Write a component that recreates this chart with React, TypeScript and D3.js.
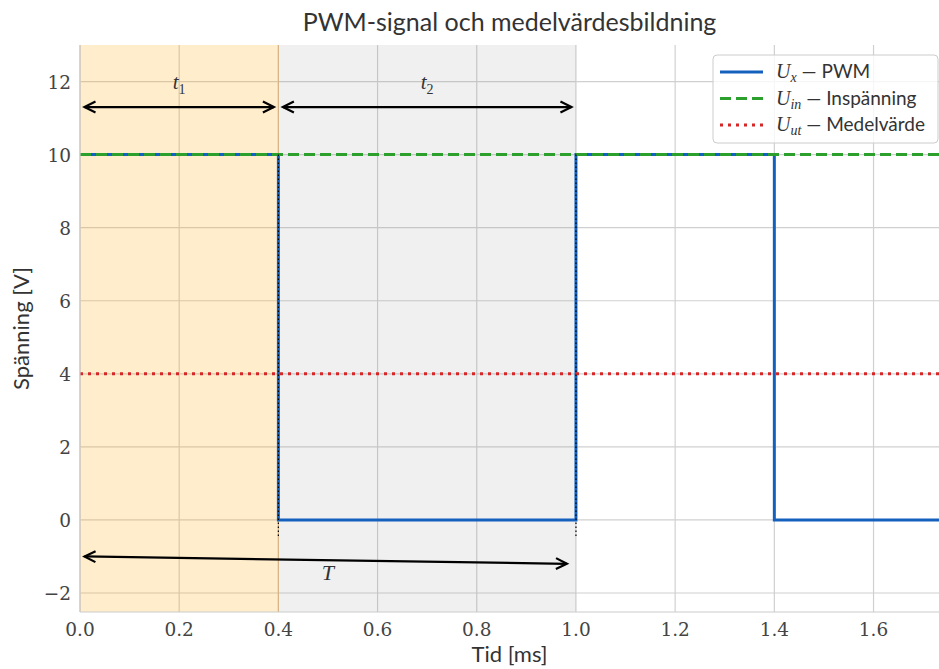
import React from "react";
import * as d3 from "d3";

const pwmT = [0, 0.4, 0.4, 1.0, 1.0, 1.4, 1.4, 1.75];
const pwmU = [10, 10, 0, 0, 10, 10, 0, 0];
const uIn = 10;
const uUt = 4;
const xTicks = [0, 0.2, 0.4, 0.6, 0.8, 1.0, 1.2, 1.4, 1.6];
const yTicks = [-2, 0, 2, 4, 6, 8, 10, 12];
const spans = [
  { x0: 0, x1: 0.4, fill: "rgba(255,165,0,0.2)" },
  { x0: 0.4, x1: 1.0, fill: "rgba(128,128,128,0.12)" },
];
const markerX = [0.4, 1.0];
const legendItems = [
  { sub: "x", text: " — PWM", color: "#1560bd", dash: "none" },
  { sub: "in", text: " — Inspänning", color: "#2ca02c", dash: "11,5" },
  { sub: "ut", text: " — Medelvärde", color: "#d62728", dash: "3,5" },
];

const W = 939, H = 669;
const M = { left: 80, right: 0, top: 45, bottom: 57 };
const SERIF = "'DejaVu Serif', 'Liberation Serif', serif";
const MATH = "'Liberation Serif', serif";
const SANS = "Lato, 'Open Sans', sans-serif";

function Arrow({ x1, y1, x2, y2 }: { x1: number; y1: number; x2: number; y2: number }) {
  const ang = Math.atan2(y2 - y1, x2 - x1);
  const L = 11, Wd = 5.5;
  const head = (x: number, y: number, a: number) => {
    const bx = x - L * Math.cos(a), by = y - L * Math.sin(a);
    const px = -Math.sin(a) * Wd, py = Math.cos(a) * Wd;
    return `M${bx + px},${by + py}L${x},${y}L${bx - px},${by - py}`;
  };
  return (
    <g stroke="black" strokeWidth={2.2} fill="none" strokeLinejoin="miter">
      <line x1={x1} y1={y1} x2={x2} y2={y2} />
      <path d={head(x2, y2, ang)} />
      <path d={head(x1, y1, ang + Math.PI)} />
    </g>
  );
}

export default function App() {
  const x = d3.scaleLinear().domain([0, 1.732]).range([M.left, W - M.right]);
  const y = d3.scaleLinear().domain([-2.52, 13]).range([H - M.bottom, M.top]);
  const line = d3.line<number>().x((_, i) => x(pwmT[i])).y((d) => y(d));
  const x0 = x.range()[0], x1 = x.range()[1];
  const y0 = y.range()[0], y1 = y.range()[1];
  const shrink = 4.5;
  return (
    <svg width={W} height={H} style={{ position: "absolute", left: 0, top: 0, background: "white" }}>
      <defs>
        <clipPath id="plot">
          <rect x={x0} y={y1} width={x1 - x0} height={y0 - y1} />
        </clipPath>
      </defs>
      {/* grid */}
      <g stroke="#d0d0d0" strokeWidth={1.2}>
        {xTicks.map((t) => (
          <line key={"gx" + t} x1={x(t)} x2={x(t)} y1={y1} y2={y0} />
        ))}
        {yTicks.map((t) => (
          <line key={"gy" + t} x1={x0} x2={x1} y1={y(t)} y2={y(t)} />
        ))}
      </g>
      {spans.map((s, i) => (
        <rect key={i} x={x(s.x0)} y={y1} width={x(s.x1) - x(s.x0)} height={y0 - y1} fill={s.fill} />
      ))}
      <line x1={x(0.4)} x2={x(0.4)} y1={y1} y2={y0} stroke="rgba(220,170,100,0.6)" strokeWidth={1.2} />
      <g clipPath="url(#plot)">
        <path d={line(pwmU) || ""} fill="none" stroke="#1560bd" strokeWidth={3} />
        <line x1={x0} x2={x1} y1={y(uIn)} y2={y(uIn)} stroke="#2ca02c" strokeWidth={3} strokeDasharray="11,5" />
        <line x1={x0} x2={x1} y1={y(uUt)} y2={y(uUt)} stroke="#d62728" strokeWidth={3} strokeDasharray="3,5" />
        {markerX.map((m) => (
          <line key={m} x1={x(m)} x2={x(m)} y1={y(10)} y2={y(-0.5)} stroke="black" strokeWidth={1.2} strokeDasharray="1.5,2.5" />
        ))}
      </g>
      {/* spines */}
      <line x1={x0} x2={x0} y1={y1} y2={y0} stroke="#cccccc" strokeWidth={1.2} />
      <line x1={x0} x2={x1} y1={y0} y2={y0} stroke="#cccccc" strokeWidth={1.2} />
      {/* annotations */}
      <Arrow x1={x(0) + shrink} y1={y(11.3)} x2={x(0.4) - shrink} y2={y(11.3)} />
      <Arrow x1={x(0.4) + shrink} y1={y(11.3)} x2={x(1.0) - shrink} y2={y(11.3)} />
      <Arrow x1={x(0) + shrink} y1={y(-1.0)} x2={x(1.0) - shrink * 2} y2={y(-1.2)} />
      <text x={x(0.2)} y={y(11.8)} fontFamily={MATH} fontStyle="italic" fontSize={21} fill="#333" textAnchor="middle">
        t<tspan fontSize={14} fontStyle="normal" dy={5}>1</tspan>
      </text>
      <text x={x(0.7)} y={y(11.8)} fontFamily={MATH} fontStyle="italic" fontSize={21} fill="#333" textAnchor="middle">
        t<tspan fontSize={14} fontStyle="normal" dy={5}>2</tspan>
      </text>
      <text x={x(0.5)} y={y(-1.65)} fontFamily={MATH} fontStyle="italic" fontSize={22} fill="#333" textAnchor="middle">
        T
      </text>
      {/* tick labels */}
      {xTicks.map((t) => (
        <text key={"tx" + t} x={x(t)} y={y0 + 24} fontFamily={SERIF} fontSize={18.5} fill="#444" textAnchor="middle">
          {d3.format(".1f")(t)}
        </text>
      ))}
      {yTicks.map((t) => (
        <text key={"ty" + t} x={x0 - 9} y={y(t) + 7} fontFamily={SERIF} fontSize={18.5} fill="#444" textAnchor="end">
          {t < 0 ? "−" + Math.abs(t) : String(t)}
        </text>
      ))}
      {/* labels */}
      <text x={(x0 + x1) / 2} y={31} fontFamily={SANS} fontSize={25} fill="#333" textAnchor="middle">
        PWM-signal och medelvärdesbildning
      </text>
      <text x={(x0 + x1) / 2} y={662} fontFamily={SANS} fontSize={22} fill="#333" textAnchor="middle">
        Tid [ms]
      </text>
      <text transform={`translate(29,${(y0 + y1) / 2}) rotate(-90)`} fontFamily={SANS} fontSize={22} fill="#333" textAnchor="middle">
        Spänning [V]
      </text>
      {/* legend */}
      <g>
        <rect x={713} y={55} width={225} height={88} rx={4} fill="rgba(255,255,255,0.8)" stroke="#cccccc" strokeWidth={1} />
        {legendItems.map((it, i) => {
          const ly = 72 + i * 26.5;
          return (
            <g key={i}>
              <line x1={720} x2={763} y1={ly} y2={ly} stroke={it.color} strokeWidth={3} strokeDasharray={it.dash} />
              <text x={776} y={ly + 6} fontSize={19} fill="#333">
                <tspan fontFamily={MATH} fontStyle="italic" fontSize={20}>U</tspan>
                <tspan fontFamily={MATH} fontStyle="italic" fontSize={14} dy={4}>{it.sub}</tspan>
                <tspan fontFamily={SANS} dy={-4}>{it.text}</tspan>
              </text>
            </g>
          );
        })}
      </g>
    </svg>
  );
}
